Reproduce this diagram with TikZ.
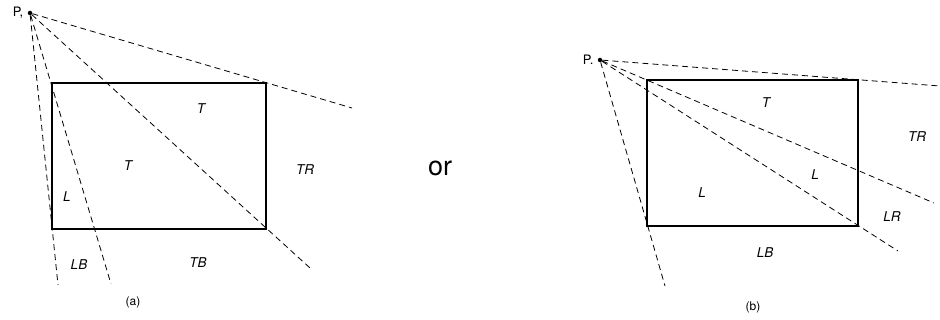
\documentclass[tikz,border=0pt]{standalone}
\usepackage{fontspec}
\setmainfont{TeX Gyre Heros}
\usetikzlibrary{positioning}
\begin{document}
\begin{tikzpicture}[
    x=1pt, y=-1pt,
    region/.style={font=\itshape\fontsize{13.5}{13.5}\selectfont, inner sep=0pt},
    viewer/.style={font=\fontsize{13}{13}\selectfont, inner sep=0pt},
    ray/.style={line width=0.8pt, dash pattern=on 6pt off 4pt},
    box/.style={draw, line width=1.3pt},
    caption/.style={font=\fontsize{12}{12}\selectfont, inner sep=0pt},
    eye/.style={circle, fill, inner sep=0pt, minimum size=4.5pt}
]
\useasboundingbox (0,0) rectangle (940,320);

% (a)
\node (Pa) [eye] at (30,13) {};
\node [viewer, left=4pt of Pa] {P,};
\coordinate (tla) at (52,83);
\coordinate (bra) at (266,229);
\draw [box] (tla) rectangle (bra);
\coordinate (ra1) at (352,108);
\coordinate (ra2) at (310,268);
\coordinate (ra3) at (111,284);
\coordinate (ra4) at (58,285);
\draw [ray] (Pa) -- (ra1);
\draw [ray] (Pa) -- (ra2);
\draw [ray] (Pa) -- (ra3);
\draw [ray] (Pa) -- (ra4);
\node [region] at (201,109) {T};
\node [region] at (128,166) {T};
\node [region] at (67,197) {L};
\node [region] at (305,170) {TR};
\node [region] at (79,265) {LB};
\node [region] at (198,263) {TB};
\node [caption] at (133,302) {(a)};

\node [font=\fontsize{27}{27}\selectfont] at (440,168) {or};

% (b)
\node (Pb) [eye] at (600,60) {};
\node [viewer, left=4pt of Pb] {P.};
\coordinate (tlb) at (647,80);
\coordinate (brb) at (858,226);
\draw [box] (tlb) rectangle (brb);
\coordinate (rb1) at (940,86);
\coordinate (rb2) at (934,203);
\coordinate (rb3) at (898,251);
\coordinate (rb4) at (665,286);
\draw [ray] (Pb) -- (rb1);
\draw [ray] (Pb) -- (rb2);
\draw [ray] (Pb) -- (rb3);
\draw [ray] (Pb) -- (rb4);
\node [region] at (766,103) {T};
\node [region] at (917,137) {TR};
\node [region] at (815,175) {L};
\node [region] at (702,193) {L};
\node [region] at (892,217) {LR};
\node [region] at (765,253) {LB};
\node [caption] at (753,307) {(b)};

\end{tikzpicture}
\end{document}
